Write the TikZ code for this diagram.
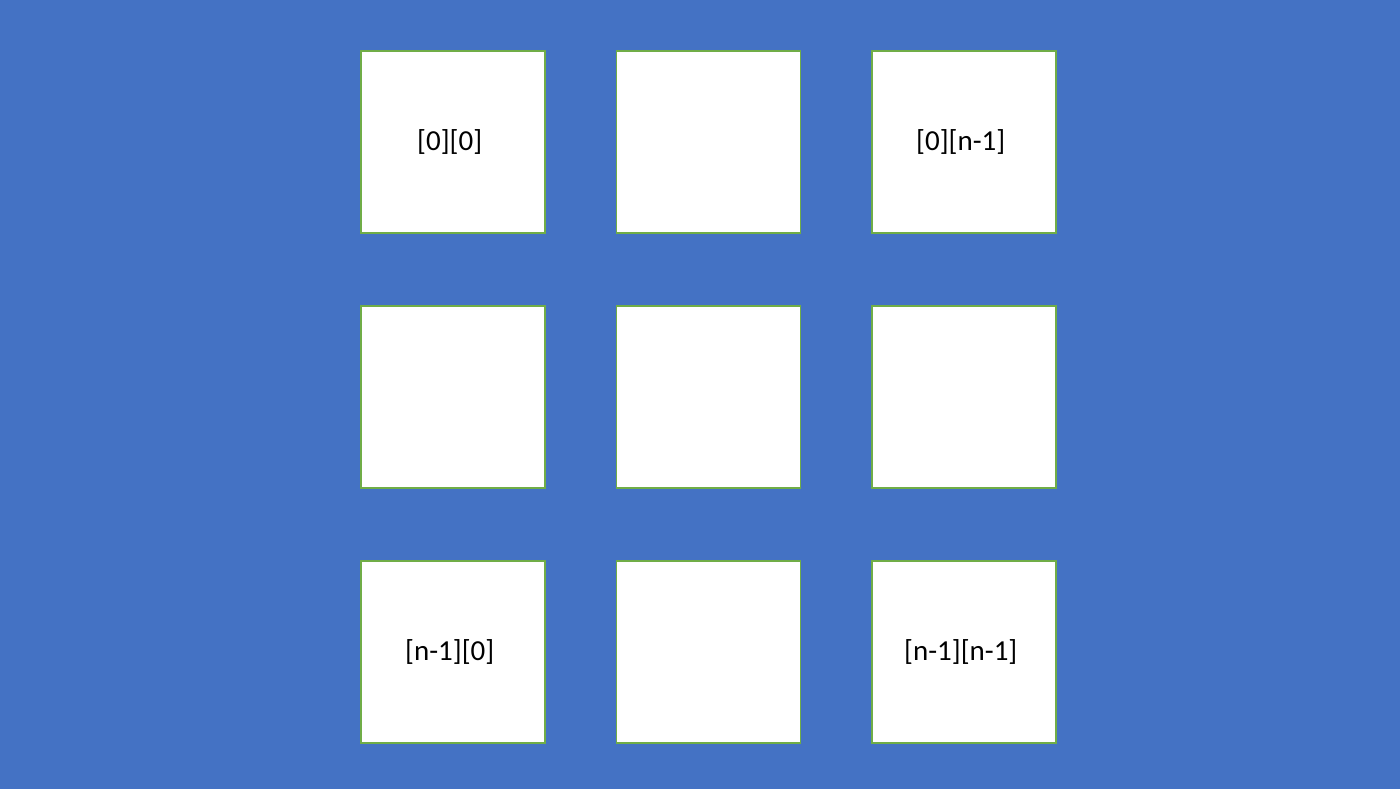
\documentclass[tikz,border=0pt]{standalone}
\usepackage{fontspec}
\setmainfont{Carlito}
\usetikzlibrary{matrix, positioning}
\definecolor{slideblue}{HTML}{4472C4}
\definecolor{cellgreen}{HTML}{70AD47}
\tikzset{
    every node/.style={font=\fontsize{16.5}{20}\selectfont},
    cellbox/.style={draw=cellgreen, fill=white, line width=0.9pt, minimum width=3.68cm, minimum height=3.64cm, inner sep=0pt, align=center, anchor=center},
}

\begin{document}
\begin{tikzpicture}[x=0.02cm, y=0.02cm]
% background slide
\fill[slideblue] (0,0) rectangle (1400,789);
\useasboundingbox (0,0) rectangle (1400,789);
% Define the gaps between the cells
\def\sepc{1.4cm}
\def\sepr{1.43cm}
\matrix (grid) [matrix of nodes, column sep=\sepc, row sep=\sepr, nodes={cellbox}] at (708.5,392) {
  {[0][0]}   & {} & {[0][n-1]}   \\
  {}         & {} & {}          \\
  {[n-1][0]} & {} & {[n-1][n-1]} \\
};
\end{tikzpicture}
\end{document}
